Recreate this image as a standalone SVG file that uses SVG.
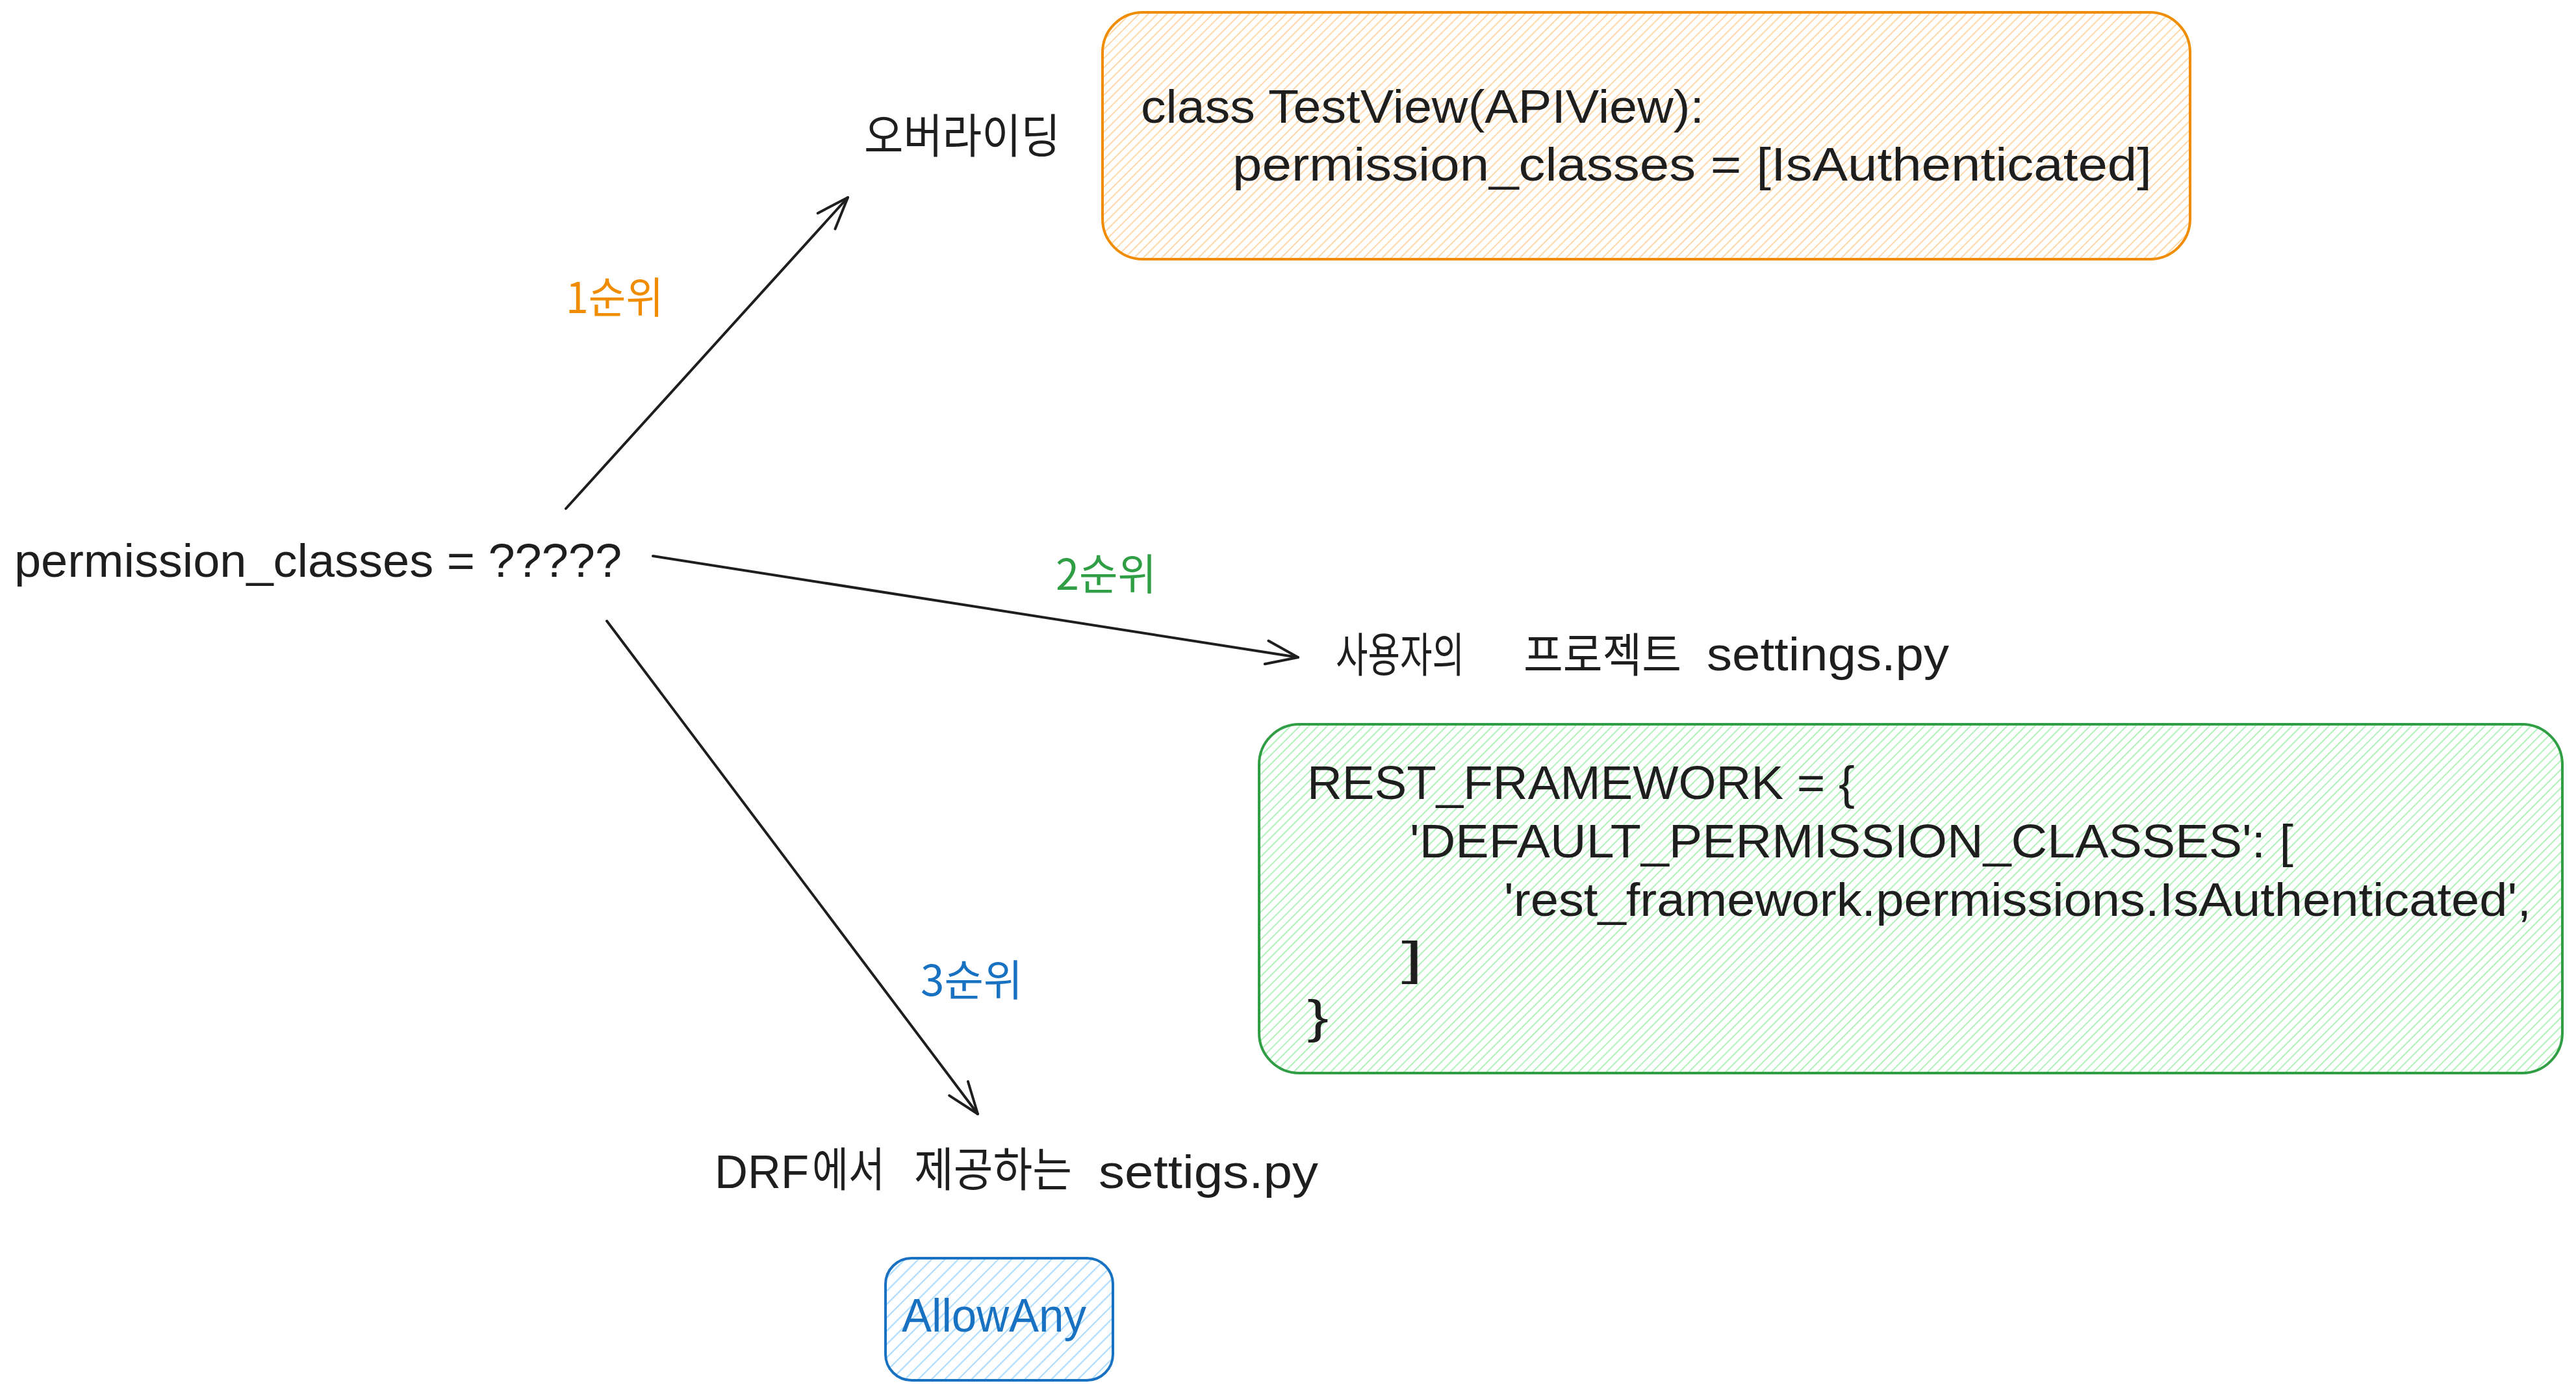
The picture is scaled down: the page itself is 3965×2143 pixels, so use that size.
<svg xmlns="http://www.w3.org/2000/svg" width="3965" height="2143" viewBox="0 0 3965 2143">
<style>
.hand{font-family:"Liberation Sans",Arial,sans-serif;font-size:72px;fill:#1e1e1e}
.kr{font-family:"Noto Sans CJK KR","Noto Sans",sans-serif;font-size:72px;fill:#1e1e1e}
.lbl{font-family:"Noto Sans CJK KR","Noto Sans",sans-serif;font-size:66px}
.conn{fill:none;stroke:#1e1e1e;stroke-width:4;stroke-linecap:round;stroke-linejoin:round}
</style>
<defs>
<pattern id="hOrange" patternUnits="userSpaceOnUse" width="10" height="10" patternTransform="rotate(45)"><line x1="5" y1="0" x2="5" y2="10" stroke="#ffd8a8" stroke-width="2"/></pattern>
<pattern id="hGreen" patternUnits="userSpaceOnUse" width="10" height="10" patternTransform="rotate(45)"><line x1="5" y1="0" x2="5" y2="10" stroke="#b2f2bb" stroke-width="2"/></pattern>
<pattern id="hBlue" patternUnits="userSpaceOnUse" width="14.5" height="14.5" patternTransform="rotate(45)"><line x1="7" y1="0" x2="7" y2="14.5" stroke="#a5d8ff" stroke-width="2"/></pattern>
<marker id="arrow" markerUnits="userSpaceOnUse" markerWidth="120" markerHeight="120" viewBox="-60 -60 120 120" refX="0" refY="0" orient="auto" overflow="visible">
<path d="M -49 -18 L 0 0 L -49 18" fill="none" stroke="#1e1e1e" stroke-width="4" stroke-linecap="round" stroke-linejoin="round"/>
</marker>
</defs>
<rect width="3965" height="2143" fill="#ffffff"/>

<g id="connectors">
<path class="conn" d="M 871 783 L 1305 304" marker-end="url(#arrow)"/>
<path class="conn" d="M 1005 856 L 1998 1012" marker-end="url(#arrow)"/>
<path class="conn" d="M 934 956 L 1505 1715" marker-end="url(#arrow)"/>
<text class="lbl" x="871" y="482" fill="#f08c00" textLength="150" lengthAdjust="spacingAndGlyphs">1순위</text>
<text class="lbl" x="1625" y="908" fill="#2f9e44" textLength="155" lengthAdjust="spacingAndGlyphs">2순위</text>
<text class="lbl" x="1417" y="1533" fill="#1971c2" textLength="157" lengthAdjust="spacingAndGlyphs">3순위</text>
</g>

<g id="source">
<text class="hand" x="22" y="888" textLength="935" lengthAdjust="spacingAndGlyphs">permission_classes = ?????</text>
</g>

<g id="override-title">
<text class="kr" x="1330" y="235" textLength="302" lengthAdjust="spacingAndGlyphs">오버라이딩</text>
</g>

<g id="override-code">
<rect x="1697" y="19" width="1674" height="380" rx="62" ry="62" fill="url(#hOrange)" stroke="#f08c00" stroke-width="4"/>
<text class="hand" x="1756" y="189" textLength="867" lengthAdjust="spacingAndGlyphs">class TestView(APIView):</text>
<text class="hand" x="1897" y="278" textLength="1415" lengthAdjust="spacingAndGlyphs">permission_classes = [IsAuthenticated]</text>
</g>

<g id="project-settings-title">
<text class="kr" x="2056" y="1034" textLength="198" lengthAdjust="spacingAndGlyphs">사용자의</text>
<text class="kr" x="2345" y="1034" textLength="243" lengthAdjust="spacingAndGlyphs">프로젝트</text>
<text class="hand" x="2627" y="1032" textLength="373" lengthAdjust="spacingAndGlyphs">settings.py</text>
</g>

<g id="project-settings-code">
<rect x="1938" y="1115" width="2006" height="537" rx="62" ry="62" fill="url(#hGreen)" stroke="#2f9e44" stroke-width="4"/>
<text class="hand" x="2012" y="1230" textLength="843" lengthAdjust="spacingAndGlyphs">REST_FRAMEWORK = {</text>
<text class="hand" x="2170" y="1320" textLength="1360" lengthAdjust="spacingAndGlyphs">'DEFAULT_PERMISSION_CLASSES': [</text>
<text class="hand" x="2315" y="1410" textLength="1581" lengthAdjust="spacingAndGlyphs">'rest_framework.permissions.IsAuthenticated',</text>
<text class="hand" x="2157" y="1500" textLength="33" lengthAdjust="spacingAndGlyphs">]</text>
<text class="hand" x="2012" y="1590" textLength="33" lengthAdjust="spacingAndGlyphs">}</text>
</g>

<g id="drf-settings-title">
<text class="hand" x="1100" y="1829" textLength="145" lengthAdjust="spacingAndGlyphs">DRF</text>
<text class="kr" x="1250" y="1826" textLength="112" lengthAdjust="spacingAndGlyphs">에서</text>
<text class="kr" x="1407" y="1826" textLength="243" lengthAdjust="spacingAndGlyphs">제공하는</text>
<text class="hand" x="1691" y="1829" textLength="338" lengthAdjust="spacingAndGlyphs">settigs.py</text>
</g>

<g id="drf-default">
<rect x="1363" y="1937" width="350" height="188" rx="40" ry="40" fill="url(#hBlue)" stroke="#1971c2" stroke-width="4"/>
<text class="hand" x="1388" y="2050" textLength="284" lengthAdjust="spacingAndGlyphs" style="fill:#1971c2">AllowAny</text>
</g>
</svg>
